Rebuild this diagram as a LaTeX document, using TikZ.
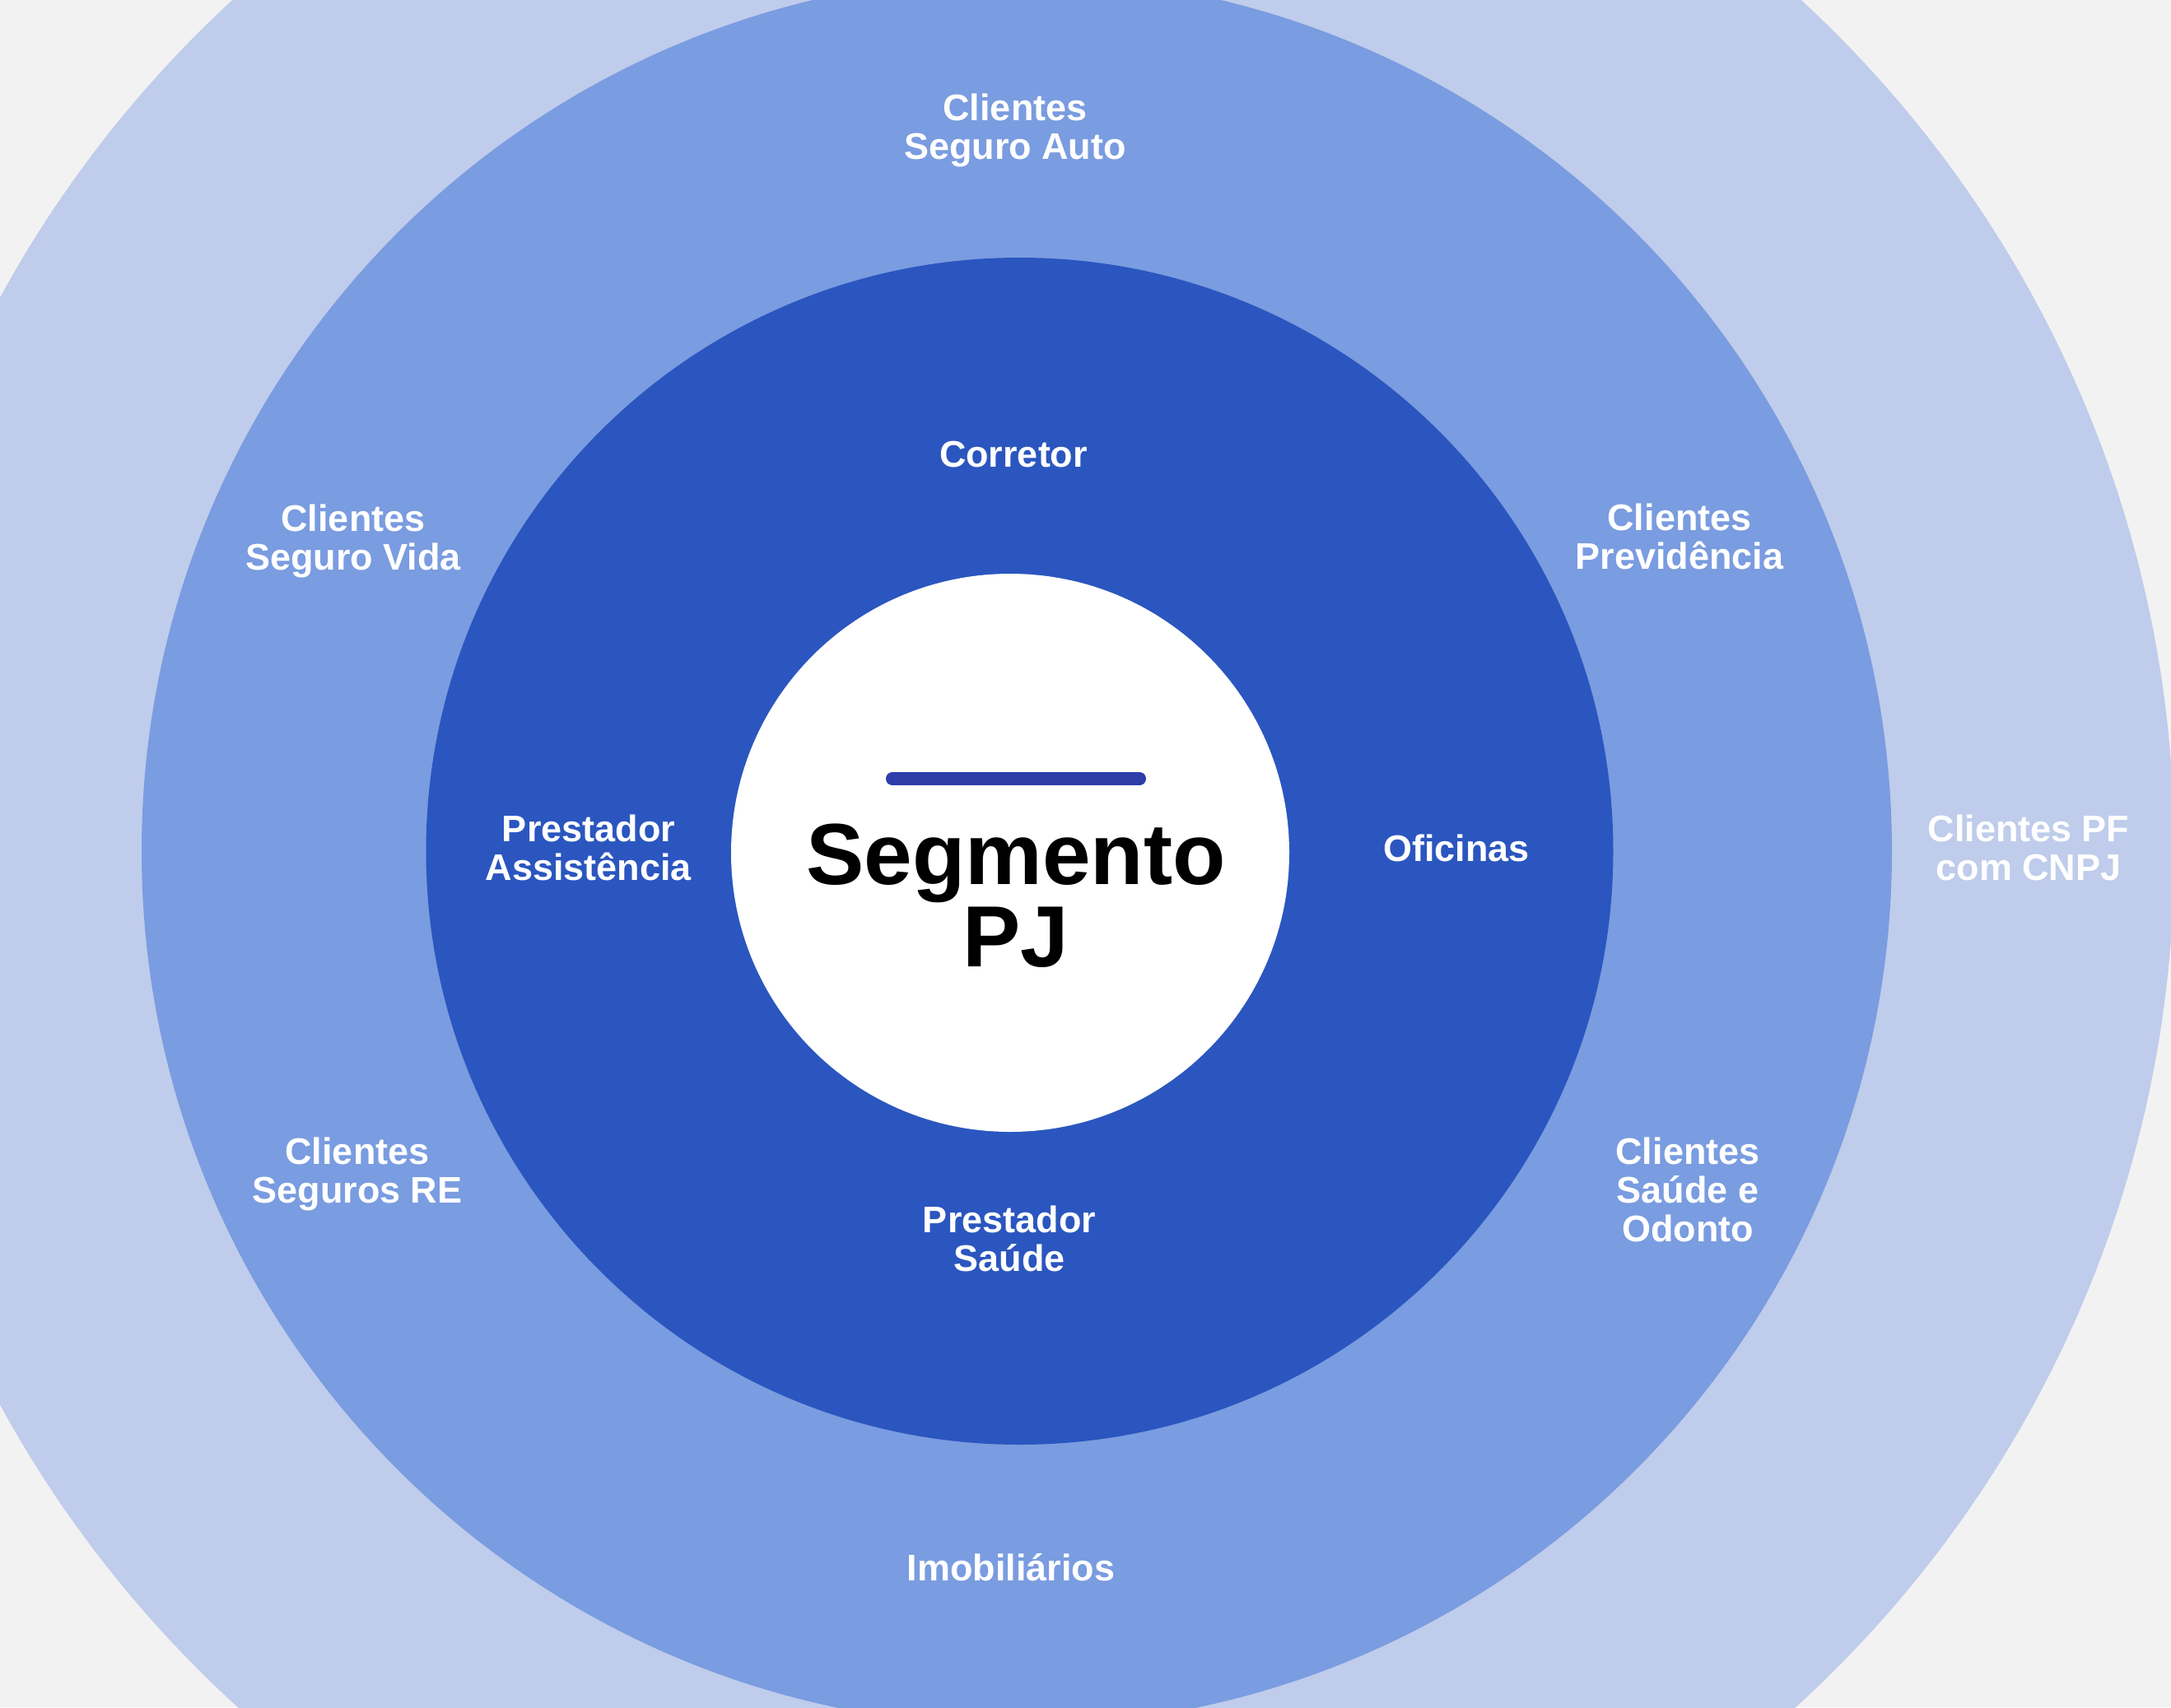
\documentclass[tikz,border=0pt]{standalone}
\usepackage{fontspec}
\setmainfont{Liberation Sans}
\usetikzlibrary{positioning}

\definecolor{bgGrey}{HTML}{F2F2F2}
\definecolor{ringLight}{HTML}{BFCCEB}
\definecolor{ringMid}{HTML}{7A9CE0}
\definecolor{ringDark}{HTML}{2B56BF}
\definecolor{barBlue}{HTML}{2E3DA8}

\begin{document}
\begin{tikzpicture}[
      label/.style={text=white, align=center, inner sep=0pt,
        font=\bfseries\fontsize{12.8}{13.4}\selectfont},
      title/.style={text=black, align=center, inner sep=0pt,
        font=\bfseries\fontsize{30}{28.5}\selectfont},
      bar/.style={draw=barBlue, line width=0.16cm, line cap=round}
    ]
    \useasboundingbox (0,0) rectangle (26.37,-20.74);
    \clip (0,0) rectangle (26.37,-20.74);
    \fill[bgGrey] (0,0) rectangle (26.37,-20.74);

    % rings
    \coordinate (c) at (12.35,-10.34);
    \coordinate (cd) at (12.385,-10.34);
    \coordinate (cw) at (12.27,-10.36);
    \fill[ringLight] (c) circle (14.06);
    \fill[ringMid] (c) circle (10.63);
    \fill[ringDark] (cd) circle (7.21);
    \fill[white] (cw) circle (3.39);

    % outer ring
    \node[label] (auto) at (12.33,-1.58) {Clientes\\Seguro Auto};
    \node[label] (vida) at (4.29,-6.57) {Clientes\\Seguro Vida};
    \node[label] (prev) at (20.40,-6.52) {Clientes\\Previdência};
    \node[label] (re) at (4.34,-14.26) {Clientes\\Seguros RE};
    \node[label] (odonto) at (20.50,-14.45) {Clientes\\Saúde e\\Odonto};
    \node[label] (imob) at (12.28,-19.04) {Imobiliários};
    \node[label] (pf) at (24.64,-10.30) {Clientes PF\\com CNPJ};

    % inner ring
    \node[label] (corretor) at (12.31,-5.52) {Corretor};
    \node[label] (assist) at (7.15,-10.30) {Prestador\\Assistência};
    \node[label] (oficinas) at (17.69,-10.30) {Oficinas};
    \node[label] (saude) at (12.26,-15.05) {Prestador\\Saúde};

    % centre
    \node[title] (seg) at (12.34,-10.88) {Segmento\\PJ};
    \coordinate (barL) at (10.84,-9.46);
    \coordinate (barR) at (13.84,-9.46);
    \draw[bar] (barL) -- (barR);
  \end{tikzpicture}
\end{document}
